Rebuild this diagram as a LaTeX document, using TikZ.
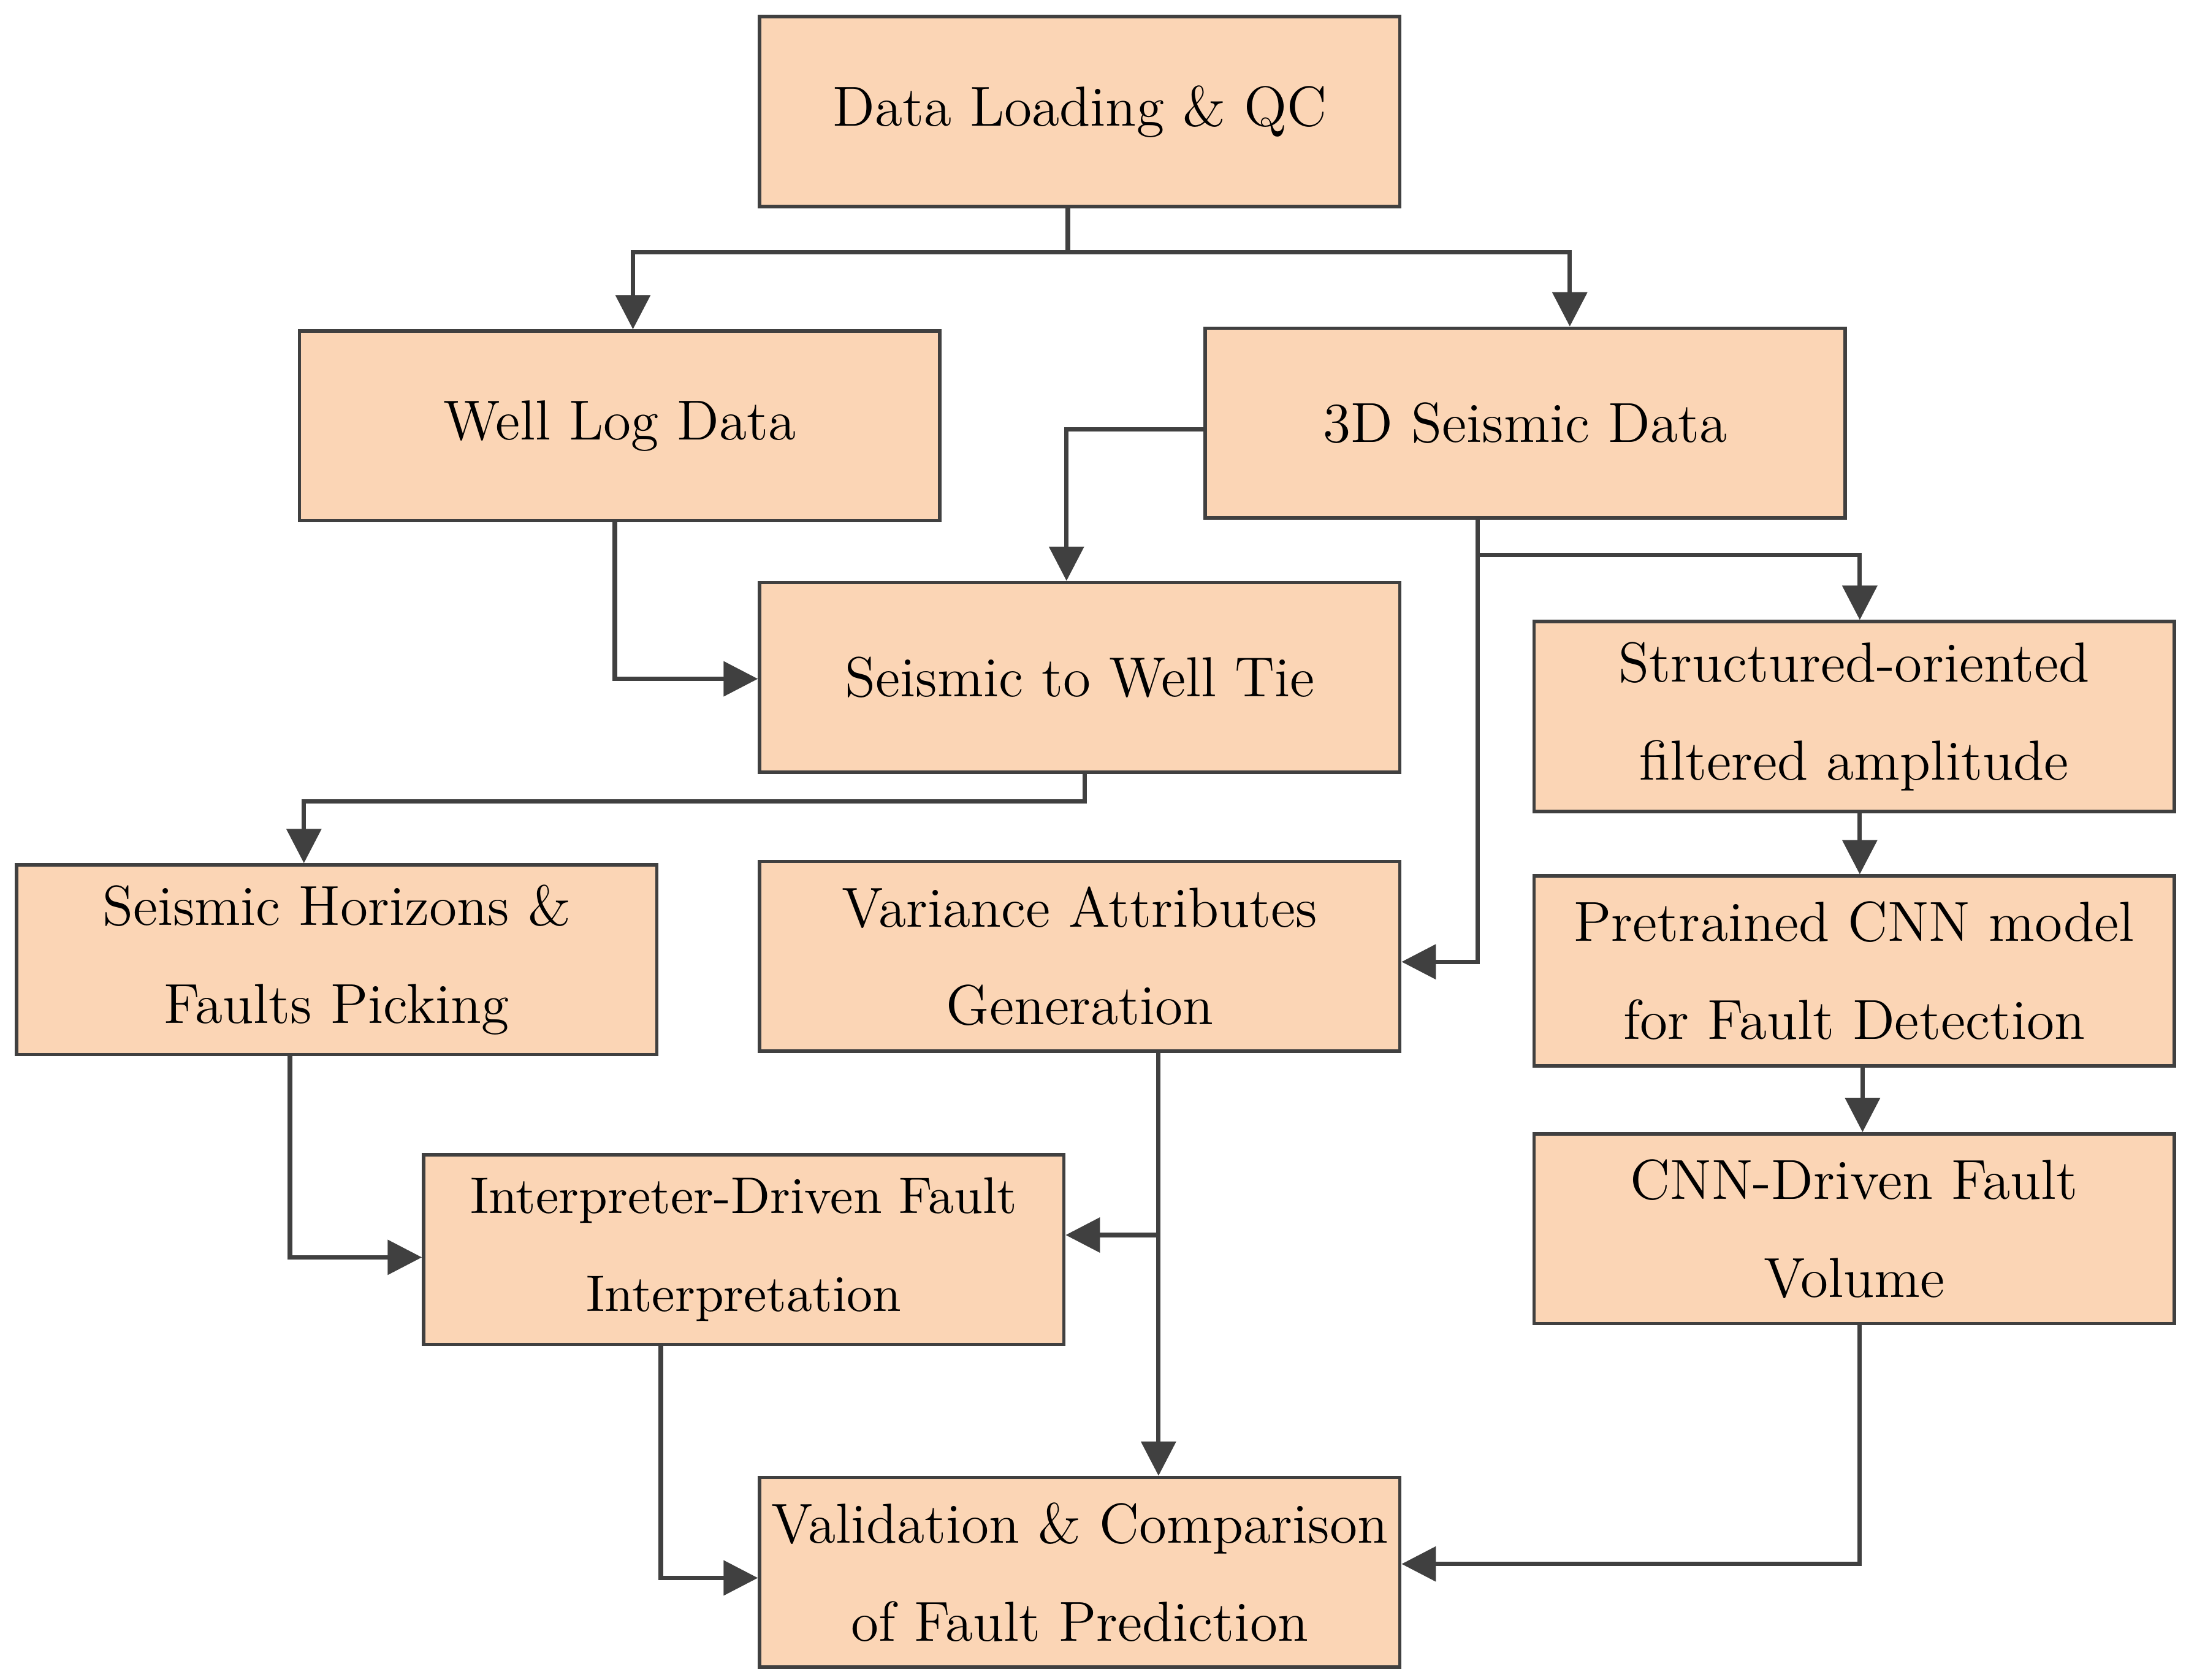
\documentclass[tikz,border=0pt]{standalone}
\usetikzlibrary{arrows.meta}
\definecolor{boxfill}{HTML}{FBD5B5}
\definecolor{ln}{HTML}{404040}
\begin{document}
\begin{tikzpicture}[x=0.01cm,y=-0.01cm,
 box/.style={draw=ln,line width=0.7pt,fill=boxfill,minimum width=4.59cm,minimum height=1.36cm,align=center,font=\fontsize{11.5}{20}\selectfont,inner sep=0pt},
 arr/.style={draw=ln,line width=0.9pt,-{Triangle[length=7pt,width=7pt]}},
 ln/.style={draw=ln,line width=0.9pt}]
\useasboundingbox (0,0) rectangle (1568,1205);
\node[box] (A) at (774.5,80) {Data Loading \& QC};
\node[box] (B) at (444.5,305.5) {Well Log Data};
\node[box] (C) at (1094,303.5) {3D Seismic Data};
\node[box] (D) at (774.5,486) {Seismic to Well Tie};
\node[box] (E) at (1330,514) {Structured-oriented\\filtered amplitude};
\node[box] (F) at (241.5,688.5) {Seismic Horizons \&\\Faults Picking};
\node[box] (G) at (774.5,686) {Variance Attributes\\Generation};
\node[box] (H) at (1330,696.5) {Pretrained CNN model\\for Fault Detection};
\node[box,font=\fontsize{10.5}{20}\selectfont] (I) at (533.5,896.5) {Interpreter-Driven Fault\\Interpretation};
\node[box] (J) at (1330,881.5) {CNN-Driven Fault\\Volume};
\node[box] (K) at (774.5,1128) {Validation \& Comparison\\of Fault Prediction};
\coordinate (a1) at (766,181);
\draw[ln] (A.south -| a1) -- (a1);
\draw[arr] (a1) -| (B.north -| 454,0);
\draw[arr] (a1) -| (C.north -| 1126,0);
\draw[arr] (C.west |- 0,308) -| (D.north -| 765,0);
\draw[arr] (B.south -| 441,0) |- (D.west |- 0,487);
\coordinate (c1) at (1060,398);
\draw[ln] (C.south -| c1) -- (c1);
\draw[arr] (c1) -| (E.north -| 1334,0);
\draw[arr] (c1) |- (G.east |- 0,690);
\draw[arr] (D.south -| 778,0) |- (600,575) -| (F.north -| 218,0);
\draw[arr] (E.south -| 1334,0) -- (H.north -| 1334,0);
\draw[arr] (H.south -| 1336,0) -- (J.north -| 1336,0);
\draw[arr] (F.south -| 208,0) |- (I.west |- 0,902);
\draw[arr] (G.south -| 831,0) -- (K.north -| 831,0);
\coordinate (g1) at (831,886);
\draw[arr] (g1) -- (I.east |- g1);
\draw[arr] (I.south -| 474,0) |- (K.west |- 0,1132);
\draw[arr] (J.south -| 1334,0) |- (K.east |- 0,1122);
\end{tikzpicture}
\end{document}
